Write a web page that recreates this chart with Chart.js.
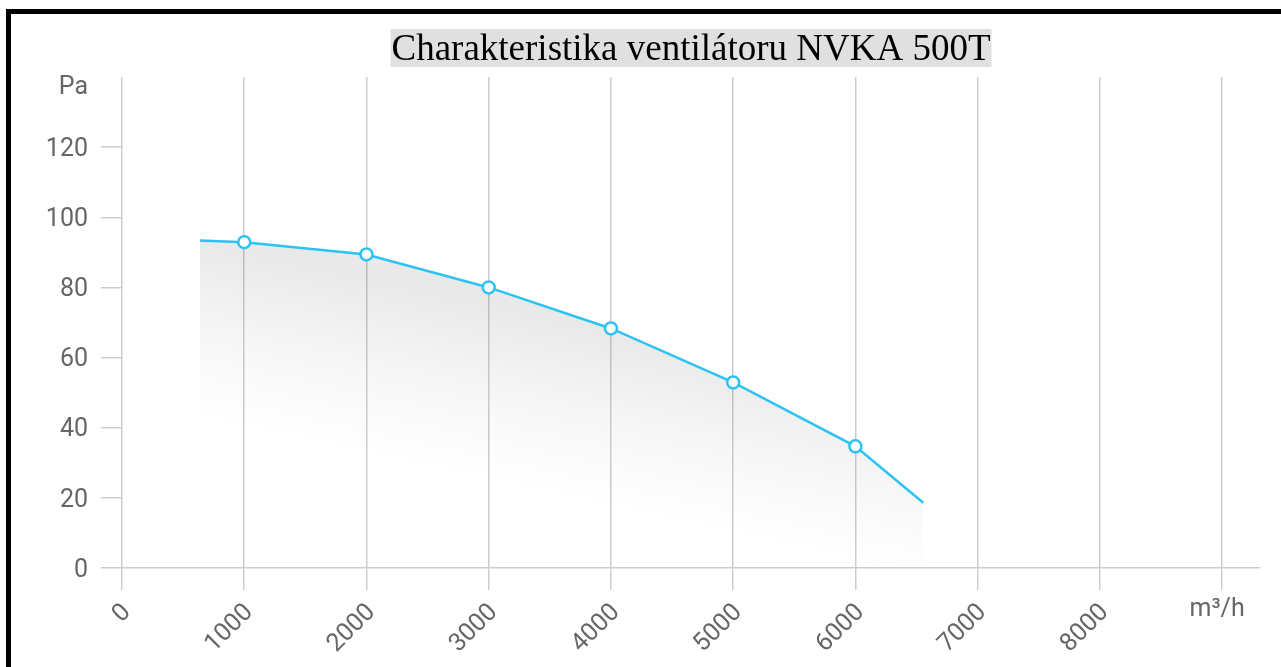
<!DOCTYPE html>
<html>
<head>
<meta charset="utf-8">
<script src="https://cdn.jsdelivr.net/npm/chart.js@4"></script>
<style>
    html, body { margin: 0; padding: 0; overflow: hidden; background: #fff; }
    .frame {
        position: absolute; left: 6px; top: 9px;
        width: 1400px; height: 800px;
        border: 5px solid #000; background: #fff;
    }
    .chart-box { position: relative; width: 1270px; height: 653px; }
</style>
</head>
<body>
<div class="frame">
    <div class="chart-box"><canvas id="fanChart"></canvas></div>
</div>
<script>
// data
const titleText = 'Charakteristika ventilátoru NVKA 500T';
const flowValues = [638, 1000, 2000, 3000, 4000, 5000, 6000, 6555];   // m3/h
const pressureValues = [93.4, 92.9, 89.4, 80.0, 68.3, 52.9, 34.7, 18.6]; // Pa
const xTicks = [0, 1000, 2000, 3000, 4000, 5000, 6000, 7000, 8000, 9000];
const yTicks = [0, 20, 40, 60, 80, 100, 120, 140];
const xUnit = 'm³/h';
const yUnit = 'Pa';

const lineColor = '#2cc3f3';
const gridColor = '#cdcdcd';
const labelColor = '#666666';

// title with grey background + unit labels
const extras = {
    id: 'extras',
    afterDraw(chart) {
        const { ctx, chartArea, scales } = chart;
        ctx.save();
        ctx.font = '37px "Liberation Serif"';
        const w = ctx.measureText(titleText).width;
        const cx = (chartArea.left + chartArea.right) / 2;
        ctx.fillStyle = '#e0e0e0';
        ctx.fillRect(cx - w / 2 - 1, 15, w + 2, 38);
        ctx.fillStyle = '#000';
        ctx.textAlign = 'center';
        ctx.textBaseline = 'alphabetic';
        ctx.fillText(titleText, cx, 46);

        ctx.font = '25px Roboto';
        ctx.fillStyle = labelColor;
        ctx.textBaseline = 'middle';
        ctx.fillText(xUnit, scales.x.getPixelForValue(xTicks[xTicks.length - 1]) - 5, chartArea.bottom + 42);

        ctx.textAlign = 'right';
        ctx.fillText(yUnit, chartArea.left - 34, scales.y.getPixelForValue(yTicks[yTicks.length - 1]) + 11);
        ctx.restore();
    }
};

const ctx = document.getElementById('fanChart').getContext('2d');

new Chart(ctx, {
    type: 'line',
    data: {
        datasets: [{
            data: flowValues.map((v, i) => ({ x: v, y: pressureValues[i] })),
            borderColor: lineColor,
            borderWidth: 2.5,
            tension: 0,
            fill: 'origin',
            // tilted grey fade under the curve
            backgroundColor: (context) => {
                const chart = context.chart;
                if (!chart.chartArea) return 'rgba(0,0,0,0.05)';
                const sx = chart.scales.x, sy = chart.scales.y;
                const x0 = sx.getPixelForValue(flowValues[0]);
                const y0 = sy.getPixelForValue(pressureValues[0]);
                const g = chart.ctx.createLinearGradient(x0, y0, x0 - 37, y0 + 170);
                g.addColorStop(0, 'rgba(0,0,0,0.085)');
                g.addColorStop(0.5, 'rgba(0,0,0,0.035)');
                g.addColorStop(1, 'rgba(0,0,0,0)');
                return g;
            },
            pointRadius: (c) => (c.dataIndex === 0 || c.dataIndex === flowValues.length - 1) ? 0 : 6,
            pointHoverRadius: 7,
            pointBackgroundColor: '#ffffff',
            pointBorderColor: lineColor,
            pointBorderWidth: 2.5,
        }]
    },
    options: {
        responsive: true,
        maintainAspectRatio: false,
        animation: false,
        layout: {
            padding: { left: 0, top: 63, right: 21, bottom: 0 }
        },
        plugins: {
            legend: { display: false },
            title: { display: false },
            tooltip: { enabled: false }
        },
        scales: {
            x: {
                type: 'linear',
                min: 0,
                max: 9310,
                afterBuildTicks: (scale) => { scale.ticks = xTicks.map(v => ({ value: v })); },
                afterFit: (scale) => { scale.height = 99; },
                ticks: {
                    color: labelColor,
                    font: { family: 'Roboto', size: 25 },
                    minRotation: 45,
                    maxRotation: 45,
                    padding: 8,
                    labelOffset: 5,
                    callback: (value) => value === xTicks[xTicks.length - 1] ? '' : String(value)
                },
                grid: {
                    color: gridColor,
                    lineWidth: 1.5,
                    tickLength: 22,
                },
                border: { color: gridColor, width: 1.5 }
            },
            y: {
                min: 0,
                max: 140,
                afterBuildTicks: (scale) => { scale.ticks = yTicks.map(v => ({ value: v })); },
                afterFit: (scale) => { scale.width = 111; },
                ticks: {
                    color: labelColor,
                    font: { family: 'Roboto', size: 25 },
                    padding: 13,
                    labelOffset: 2.5,
                    callback: (value) => value === yTicks[yTicks.length - 1] ? '' : String(value)
                },
                grid: {
                    drawOnChartArea: false,
                    color: (c) => (c.tick && c.tick.value === yTicks[yTicks.length - 1]) ? 'rgba(0,0,0,0)' : gridColor,
                    lineWidth: 1.5,
                    tickLength: 21,
                },
                border: { display: false }
            }
        }
    },
    plugins: [extras]
});
</script>
</body>
</html>
